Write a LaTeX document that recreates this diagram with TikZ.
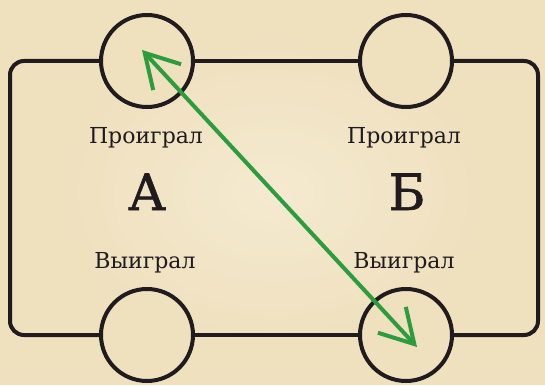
\documentclass[tikz,border=0pt]{standalone}
\usepackage{fontspec}
\setmainfont{DejaVu Serif}
\newfontfamily\letterfont[FakeBold=1.2]{DejaVu Serif}
\usepackage{tikz}
\usetikzlibrary{arrows.meta,positioning}

\definecolor{parchment}{RGB}{239,224,190}
\definecolor{parchmentlight}{RGB}{245,234,208}
\definecolor{ink}{RGB}{32,27,30}
\definecolor{chalkgreen}{RGB}{44,156,62}

\tikzset{
  slot/.style={circle, draw=ink, line width=4pt, fill=parchment,
    minimum size=92pt, inner sep=0pt},
  wire/.style={draw=ink, line width=4pt},
  outcome/.style={text=ink, font=\fontsize{22}{24}\selectfont, anchor=base},
  player/.style={text=ink, font=\letterfont\fontsize{50}{54}\selectfont, anchor=base},
  swap/.style={chalkgreen, line width=4pt, line cap=round,
    {Straight Barb[length=33pt,width=38pt]}-{Straight Barb[length=33pt,width=38pt]}}
}

\begin{document}
\begin{tikzpicture}[x=1pt,y=-1pt]
  % background
  \fill[parchment] (0,0) rectangle (545,385);
  \shade[inner color=parchmentlight, outer color=parchment] (60,40) rectangle (485,345);
  \useasboundingbox (0,0) rectangle (545,385);

  % frame
  \coordinate (lx) at (10,0);
  \coordinate (rx) at (538,0);
  \draw[wire, rounded corners=14pt] (147,61) -| (lx |- 0,335) -- (147,335);
  \draw[wire, rounded corners=14pt] (406,61) -| (rx |- 0,335) -- (406,335);
  \draw[wire] (147,61) -- (406,61);
  \draw[wire] (147,335) -- (406,335);

  % circles
  \node[slot] (pa) at (147,61) {};
  \node[slot] (pb) at (406,61) {};
  \node[slot] (wa) at (147,335) {};
  \node[slot] (wb) at (406,335) {};

  % labels
  \node[outcome] (lossa) at (146,143) {Проиграл};
  \node[outcome] (lossb) at (404,143) {Проиграл};
  \node[player] (a) at (147,210) {А};
  \node[player] (b) at (407,210) {Б};
  \node[outcome] (wina) at (145,268) {Выиграл};
  \node[outcome] (winb) at (404,268) {Выиграл};

  % arrow
  \draw[swap] ([shift={(-5,-11)}]pa.center) -- ([shift={(11,12)}]wb.center);
\end{tikzpicture}
\end{document}
